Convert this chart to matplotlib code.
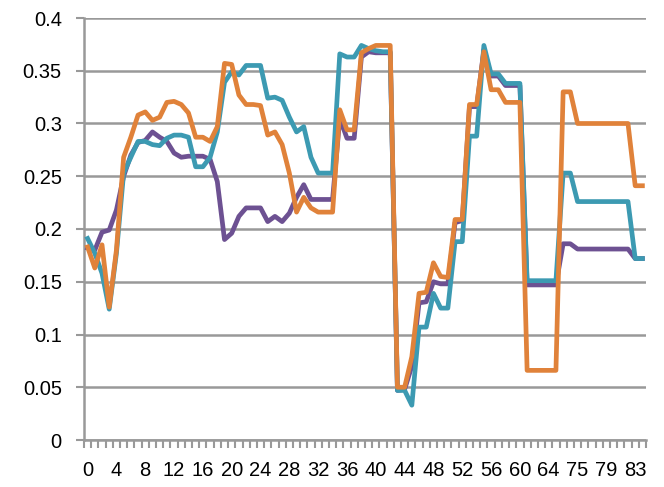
import matplotlib
matplotlib.use("Agg")
import matplotlib.pyplot as plt
from matplotlib.ticker import MultipleLocator, FixedLocator

# category labels (gap after 64 in the source sheet)
categories = list(range(0, 65)) + list(range(72, 85))

purple = [0.182, 0.180, 0.197, 0.199, 0.218, 0.250, 0.270, 0.282, 0.284, 0.292,
          0.287, 0.283, 0.272, 0.268, 0.269, 0.269, 0.269, 0.266, 0.245, 0.190,
          0.196, 0.212, 0.220, 0.220, 0.220, 0.207, 0.212, 0.207, 0.215, 0.230,
          0.242, 0.228, 0.228, 0.228, 0.228, 0.305, 0.286, 0.286, 0.363, 0.368,
          0.367, 0.367, 0.367, 0.047, 0.048, 0.070, 0.130, 0.131, 0.150, 0.148,
          0.148, 0.206, 0.208, 0.316, 0.316, 0.370, 0.345, 0.345, 0.336, 0.336,
          0.336, 0.147, 0.147, 0.147, 0.147, 0.147, 0.186, 0.186, 0.181, 0.181,
          0.181, 0.181, 0.181, 0.181, 0.181, 0.181, 0.172, 0.172]

teal = [0.191, 0.177, 0.158, 0.124, 0.177, 0.253, 0.268, 0.283, 0.283, 0.280,
        0.279, 0.286, 0.289, 0.289, 0.287, 0.259, 0.259, 0.268, 0.292, 0.339,
        0.349, 0.346, 0.355, 0.355, 0.355, 0.324, 0.325, 0.322, 0.306, 0.292,
        0.297, 0.268, 0.253, 0.253, 0.253, 0.366, 0.363, 0.363, 0.374, 0.371,
        0.369, 0.368, 0.368, 0.047, 0.047, 0.033, 0.107, 0.107, 0.139, 0.125,
        0.125, 0.188, 0.188, 0.288, 0.288, 0.374, 0.347, 0.347, 0.338, 0.338,
        0.338, 0.151, 0.151, 0.151, 0.151, 0.151, 0.253, 0.253, 0.226, 0.226,
        0.226, 0.226, 0.226, 0.226, 0.226, 0.226, 0.172, 0.172]

orange = [0.183, 0.163, 0.185, 0.126, 0.180, 0.268, 0.287, 0.308, 0.311, 0.303,
          0.306, 0.320, 0.321, 0.318, 0.310, 0.287, 0.287, 0.283, 0.297, 0.357,
          0.356, 0.327, 0.318, 0.318, 0.317, 0.289, 0.292, 0.280, 0.253, 0.216,
          0.230, 0.220, 0.216, 0.216, 0.216, 0.313, 0.294, 0.294, 0.367, 0.371,
          0.374, 0.374, 0.374, 0.050, 0.050, 0.079, 0.139, 0.140, 0.168, 0.155,
          0.154, 0.209, 0.209, 0.318, 0.318, 0.368, 0.332, 0.332, 0.320, 0.320,
          0.320, 0.066, 0.066, 0.066, 0.066, 0.066, 0.330, 0.330, 0.300, 0.300,
          0.300, 0.300, 0.300, 0.300, 0.300, 0.300, 0.241, 0.241]

plt.rcParams['font.family'] = ['Liberation Sans', 'DejaVu Sans']

fig = plt.figure(figsize=(6.64, 4.87), dpi=100)
ax = fig.add_axes([84 / 664, 1 - 440 / 487, (646 - 84) / 664, (440 - 18) / 487])

x = list(range(len(categories)))
ax.plot(x, purple, color='#6D5192', lw=3.4, solid_joinstyle='round', zorder=3)
ax.plot(x, teal, color='#3C9AB2', lw=3.4, solid_joinstyle='round', zorder=4)
ax.plot(x, orange, color='#E0823A', lw=3.4, solid_joinstyle='round', zorder=5)

ax.set_xlim(-0.5, len(categories) - 0.5)
ax.set_ylim(0, 0.4)

# y axis
ax.yaxis.set_major_locator(MultipleLocator(0.05))
ax.set_yticklabels([f'{v:g}' for v in ax.get_yticks()])
ax.grid(axis='y', color='#999999', lw=1.8, zorder=1)
ax.tick_params(axis='y', length=6, width=1.5, color='#999999', labelsize=14.5, pad=10)

# x axis: tick marks between categories, labels every 4th category
ax.xaxis.set_major_locator(FixedLocator(x[::4]))
ax.set_xticklabels([str(categories[i]) for i in x[::4]])
ax.xaxis.set_minor_locator(FixedLocator([i - 0.5 for i in range(len(categories) + 1)]))
ax.tick_params(axis='x', which='major', length=0, labelsize=14.5, pad=15)
ax.tick_params(axis='x', which='minor', length=6, width=1.5, color='#999999')

for side in ['top', 'right']:
    ax.spines[side].set_visible(False)
for side in ['left', 'bottom']:
    ax.spines[side].set_color('#999999')
    ax.spines[side].set_linewidth(1.8)

fig.savefig('out.png', dpi=100)
